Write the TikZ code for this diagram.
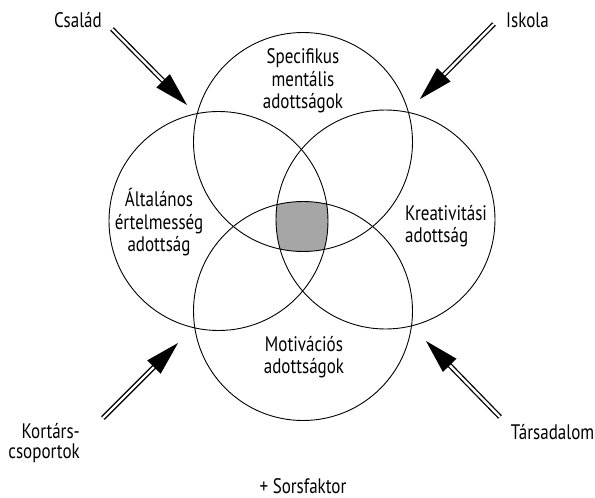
\documentclass[tikz,border=0pt]{standalone}
\usepackage{fontspec}
\setmainfont{PT Sans}[FakeStretch=0.81]
\usetikzlibrary{calc}
\definecolor{coreshade}{RGB}{166,166,166}
\tikzset{
  ring/.style={circle, draw=black, line width=0.9pt, minimum size=219pt, inner sep=0pt},
  lbl/.style={font=\fontsize{21}{22.5}\selectfont, inner sep=0pt, align=center},
  shaft/.style={draw=black, double=white, double distance=2.4pt, line width=1.3pt},
}
\newcommand{\influx}[3]{%
  \coordinate (#1base) at ($(#3)!34pt!(#2)$);
  \draw[shaft] (#2) -- ($(#3)!31pt!(#2)$);
  \fill[black] (#3) -- ($(#1base)!9.5pt!90:(#3)$) -- ($(#1base)!9.5pt!-90:(#3)$) -- cycle;
}
\begin{document}
\begin{tikzpicture}[x=1pt,y=-1pt]
\useasboundingbox (0,0) rectangle (595,498);
\coordinate (ct) at (303,142);
\coordinate (cb) at (303,311);
\coordinate (cl) at (218.5,221);
\coordinate (cr) at (385.5,219.5);
\begin{scope}
  \clip (ct) circle[radius=109.5pt];
  \clip (cb) circle[radius=109.5pt];
  \clip (cl) circle[radius=109.5pt];
  \fill[coreshade] (cr) circle[radius=109.5pt];
\end{scope}
\node[ring] (topc) at (ct) {};
\node[ring] (botc) at (cb) {};
\node[ring] (leftc) at (cl) {};
\node[ring] (rightc) at (cr) {};
\node[lbl] (spec) at (303,81) {Specifikus\\mentális\\adottságok};
\node[lbl] (alt) at (159,222.5) {Általános\\értelmesség\\adottság};
\node[lbl, align=left, anchor=west] (kre) at (405,226) {Kreativitási\\adottság};
\node[lbl] (mot) at (304,357) {Motivációs\\adottságok};
\node[lbl, anchor=base] (csal) at (78,27) {Család};
\node[lbl, anchor=base] (isk) at (527.5,27) {Iskola};
\node[lbl, align=right, anchor=east, font=\fontsize{21}{20}\selectfont] (kort) at (80,443.5) {Kortárs-\\csoportok};
\node[lbl, anchor=base] (tars) at (552.5,439) {Társadalom};
\node[lbl, anchor=base] (sors) at (303,493) {+ Sorsfaktor};
\coordinate (csaltail) at (112,29);
\coordinate (csaltip) at (187,105);
\coordinate (isktail) at (494,24);
\coordinate (isktip) at (420,99);
\coordinate (korttail) at (103,418);
\coordinate (korttip) at (178,343);
\coordinate (tarstail) at (500,417);
\coordinate (tarstip) at (426,341);
\influx{csal}{csaltail}{csaltip}
\influx{isk}{isktail}{isktip}
\influx{kort}{korttail}{korttip}
\influx{tars}{tarstail}{tarstip}
\end{tikzpicture}
\end{document}
